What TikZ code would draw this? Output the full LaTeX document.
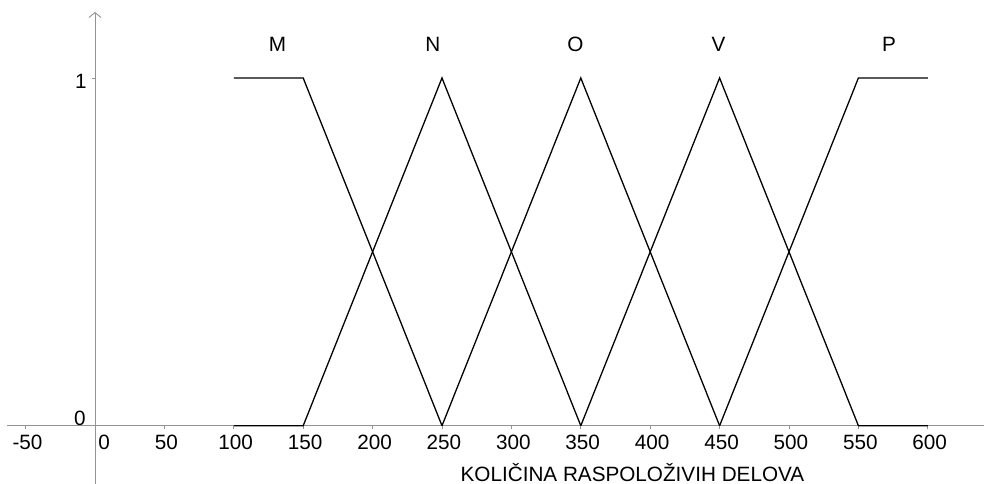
\documentclass[tikz,border=0pt]{standalone}
\usepackage{fontspec}
\setmainfont{Liberation Sans}
\usetikzlibrary{arrows.meta}

\begin{document}
\begin{tikzpicture}[x=1.388pt,y=347.7pt]
		\tikzstyle{every node}+=[inner sep=0pt,font=\fontsize{20.7}{24}\selectfont]
		\tikzstyle{axis}=[gray!85,line width=0.9pt]
		\tikzstyle{fuzzy}=[black,line width=1.3pt,line join=miter]
		\useasboundingbox (-68.44,-0.1677) rectangle (640.5,1.2243);
		% axes
		\draw [axis] (-63.4,0) -- (640.5,0);
		\draw [axis,-{Straight Barb[length=5pt,width=12pt]}] (0,-0.1677) -- (0,1.19);
		\foreach \t in {-50,50,100,...,600}
			\draw [axis] (\t,0) -- (\t,-0.009);
		\draw [axis] (0,1) -- (-2.2,1);
		\foreach \t in {-50,50,100,...,600}
			\node (tick\t) at (\t+1.4,-0.047) {\t};
		\node (tick0) at (6.5,-0.047) {0};
		\node (yzero) at (-10.8,0.022) {0};
		\node (yone) at (-10.1,0.991) {1};
		% fuzzy sets
		\draw [fuzzy] (100,1) -- (150,1) -- (250,0);
		\draw [fuzzy] (100,0) -- (150,0) -- (250,1) -- (350,0);
		\draw [fuzzy] (250,0) -- (350,1) -- (450,0);
		\draw [fuzzy] (350,0) -- (450,1) -- (550,0) -- (600,0);
		\draw [fuzzy] (450,0) -- (550,1) -- (600,1);
		\node (lblM) at (131.5,1.096) {M};
		\node (lblN) at (243.5,1.096) {N};
		\node (lblO) at (346.2,1.096) {O};
		\node (lblV) at (449.2,1.096) {V};
		\node (lblP) at (572.0,1.096) {P};
		\node (xtitle) at (387.2,-0.1345) {KOLIČINA RASPOLOŽIVIH DELOVA};
\end{tikzpicture}
\end{document}
